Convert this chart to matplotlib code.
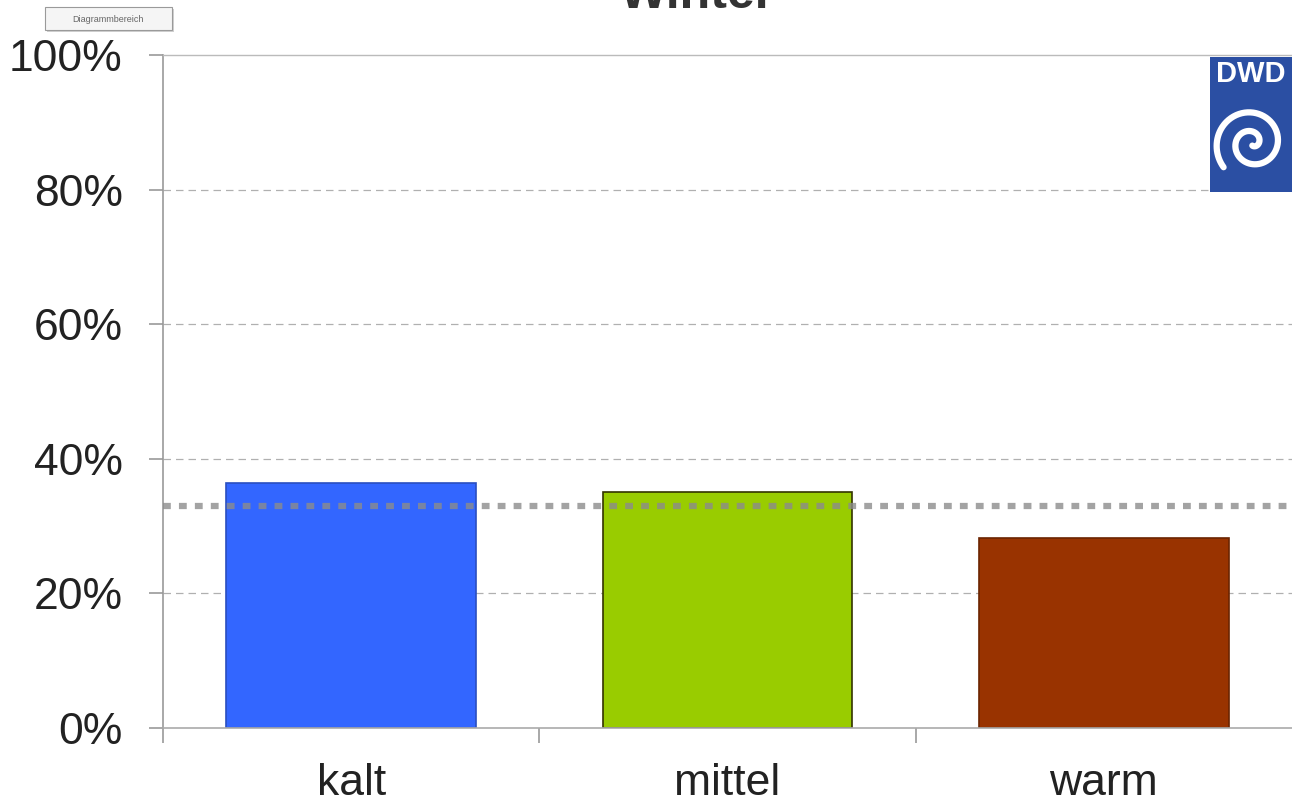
import numpy as np
import matplotlib
matplotlib.use("Agg")
import matplotlib.pyplot as plt
from matplotlib.patches import Rectangle

plt.rcParams['font.family'] = ['Liberation Sans', 'DejaVu Sans']

# ---- data ----
categories = ["kalt", "mittel", "warm"]
shares = [0.364, 0.351, 0.282]
bar_colors = ["#3366ff", "#99cc00", "#993300"]
edge_colors = ["#2a4fc0", "#333300", "#6b2400"]
reference_level = 0.33
yticks = [0.0, 0.2, 0.4, 0.6, 0.8, 1.0]
ytick_labels = ["0%", "20%", "40%", "60%", "80%", "100%"]
title = "Winter"

W, H = 1292, 807
fig = plt.figure(figsize=(W / 100, H / 100), dpi=100)
fig.patch.set_facecolor("white")

ax = fig.add_axes([163 / W, (H - 728) / H, (W - 163) / W, (728 - 55) / H])
x = np.arange(len(categories))
ax.bar(x, shares, width=0.664, color=bar_colors, edgecolor=edge_colors,
       linewidth=1.2, zorder=2)
ax.set_xlim(-0.5, 2.5)
ax.set_ylim(0, 1.0)

# reference dotted line
ax.axhline(reference_level, color="#8c8c8c", lw=4.5, alpha=0.8,
           linestyle=(0, (1.25, 1.3)), zorder=3, dash_capstyle='butt')

# grid
for yv in yticks[1:-1]:
    ax.axhline(yv, color="#b0b0b0", lw=0.9, linestyle=(0, (6, 4)), zorder=1)

ax.set_yticks(yticks)
ax.set_yticklabels(ytick_labels, fontsize=32, color="#222222")
ax.set_xticks(x)
ax.set_xticklabels(categories, fontsize=32, color="#222222")
ax.tick_params(axis='x', length=0, pad=25)
ax.tick_params(axis='y', length=10, width=1.2, color="#999999", pad=19)

# category boundary ticks on x axis
ax.set_xticks([-0.5, 0.5, 1.5], minor=True)
ax.tick_params(axis='x', which='minor', length=11, width=1.2, color="#999999")

ax.spines["right"].set_visible(False)
ax.spines["top"].set_color("#bbbbbb")
ax.spines["top"].set_linewidth(1.0)
ax.spines["left"].set_color("#999999")
ax.spines["left"].set_linewidth(1.2)
ax.spines["bottom"].set_color("#aaaaaa")
ax.spines["bottom"].set_linewidth(1.2)

# title (mostly cut off at the top edge, as in the reference)
fig.text(698 / W, 1 - 8 / H, title, ha="center", va="baseline",
         fontsize=36, fontweight="bold", color="#333333")

# "Diagrammbereich" tooltip box
fig.patches.append(Rectangle((47 / W, 1 - 32 / H), 127 / W, 23 / H,
                             transform=fig.transFigure, facecolor="#d0d0d0",
                             edgecolor="none", zorder=4))
fig.patches.append(Rectangle((45 / W, 1 - 30 / H), 127 / W, 23 / H,
                             transform=fig.transFigure, facecolor="#f5f5f5",
                             edgecolor="#9a9a9a", lw=0.8, zorder=5))
fig.text(108 / W, 1 - 19 / H, "Diagrammbereich", ha="center", va="center",
         fontsize=6.5, color="#666666", zorder=6)

# DWD logo
lx0, ly0, lw_, lh_ = 1210, 57, 82, 135
lax = fig.add_axes([lx0 / W, (H - ly0 - lh_) / H, lw_ / W, lh_ / H])
lax.set_xlim(0, lw_)
lax.set_ylim(lh_, 0)
lax.axis("off")
lax.add_patch(Rectangle((0, 0), lw_, lh_, facecolor="#2b4fa3", edgecolor="none"))
lax.text(41, 17, "DWD", ha="center", va="center", color="white",
         fontsize=21, fontweight="bold")
t = np.linspace(0.2, 3.75 * np.pi, 500)
r = 2.0 + 3.0 * t
cx, cy = 42, 86
sx = cx + r * np.cos(t - 1.65)
sy = cy - r * np.sin(t - 1.65)
lax.plot(sx, sy, color="white", lw=4.5, solid_capstyle="round")

fig.savefig("out.png", dpi=100, facecolor="white")
